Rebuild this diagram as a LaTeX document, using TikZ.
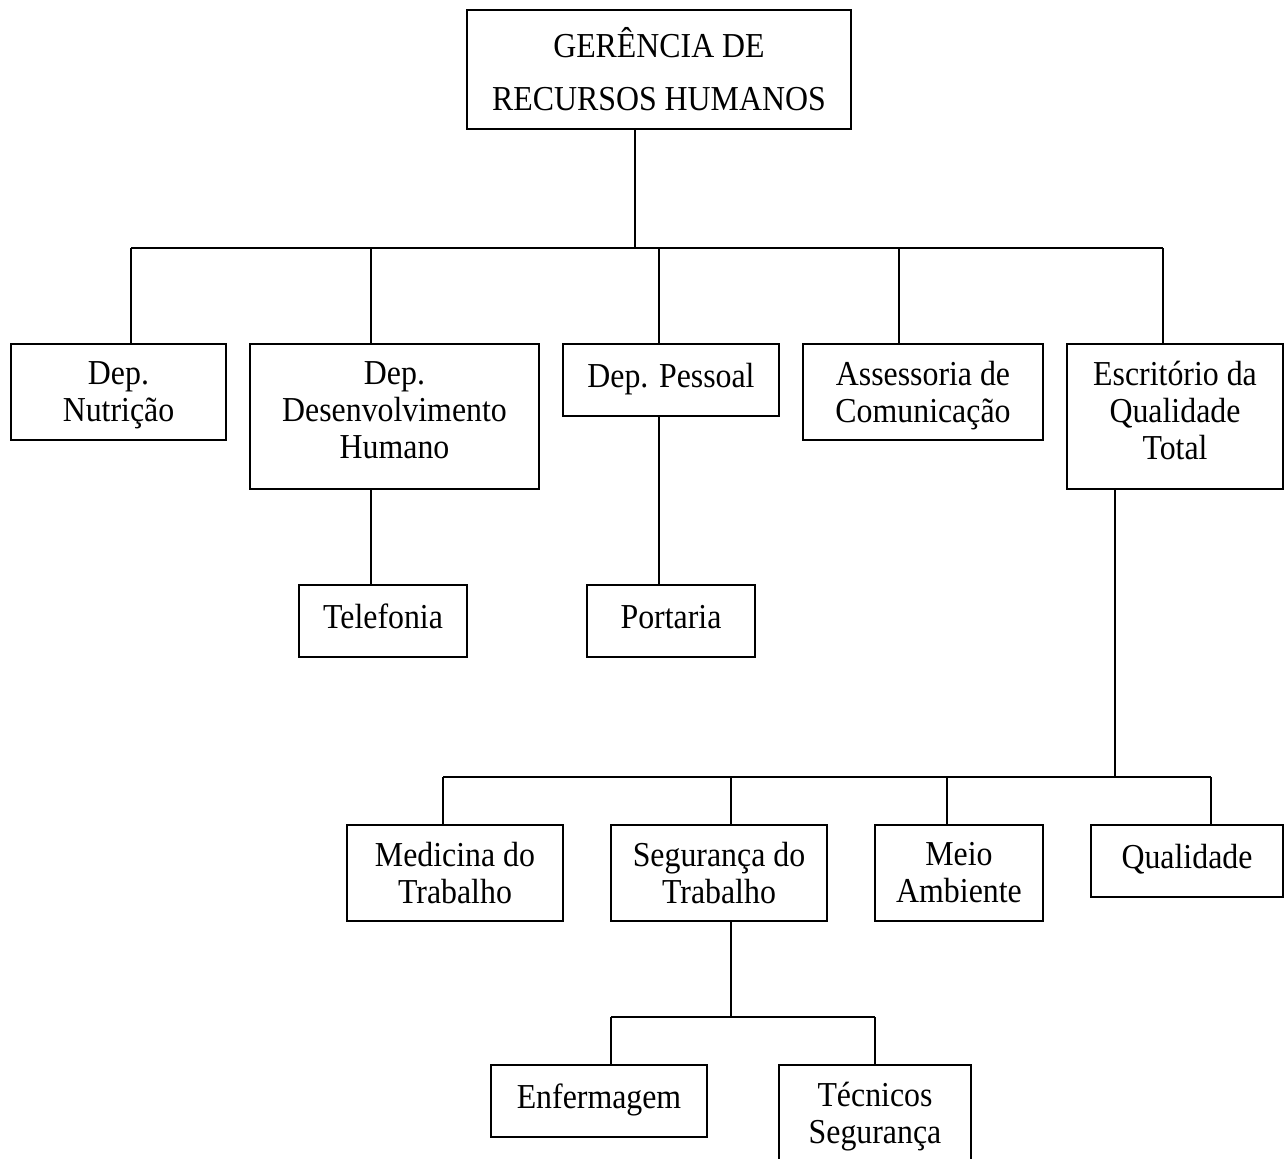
\documentclass[tikz,border=0pt]{standalone}
\usepackage{fontspec}
\setmainfont{Liberation Serif}[FakeStretch=0.91]
\usepackage{tikz}
\usetikzlibrary{positioning}

\begin{document}
\begin{tikzpicture}[
  x=0.5pt, y=-0.5pt,
  box/.style={draw, line width=1pt, inner sep=0pt},
  sz/.style 2 args={minimum width=#1*0.5pt, minimum height=#2*0.5pt},
  txt/.style={label={[lbl]north:#1}},
  lbl/.style={anchor=north, yshift=-9pt, inner sep=0pt, align=center,
    font=\fontsize{17.5}{18.5}\selectfont,
    execute at begin node=\strut, execute at end node=\strut},
  link/.style={line width=1pt},
]
\useasboundingbox (0,0) rectangle (1285,1158);

\node[box, sz={384}{119}] (ger) at (659,69.5) {};
\node[lbl, yshift=0pt] (gertxt) at (ger.north) {GERÊNCIA DE\\[8pt]RECURSOS HUMANOS};

\node[box, sz={215}{96}, txt={Dep.\\Nutrição}] (nutri) at (118.5,392) {};
\node[box, sz={289}{145}, txt={Dep.\\Desenvolvimento\\Humano}] (desen) at (394.5,416.5) {};
\node[box, sz={216}{72}, txt={Dep. Pessoal}] (pess) at (671,380) {};
\node[box, sz={240}{96}, txt={Assessoria de\\Comunicação}] (asses) at (923,392) {};
\node[box, sz={216}{145}, txt={Escritório da\\Qualidade\\Total}] (escr) at (1175,416.5) {};

\node[box, sz={168}{72}, txt={Telefonia}] (tele) at (383,621) {};
\node[box, sz={168}{72}, txt={Portaria}] (port) at (671,621) {};

\node[box, sz={216}{96}, txt={Medicina do\\Trabalho}] (med) at (455,873) {};
\node[box, sz={216}{96}, txt={Segurança do\\Trabalho}] (seg) at (719,873) {};
\node[box, sz={168}{96}, txt={Meio\\Ambiente}] (meio) at (959,873) {};
\node[box, sz={192}{72}, txt={Qualidade}] (qual) at (1187,861) {};

\node[box, sz={216}{72}, txt={Enfermagem}] (enf) at (599,1101) {};
\node[box, sz={192}{96}, txt={Técnicos\\Segurança}] (tec) at (875,1113) {};

% first level
\coordinate (top) at (635,248);
\coordinate (a1) at (131,248);
\coordinate (a2) at (371,248);
\coordinate (a3) at (659,248);
\coordinate (a4) at (899,248);
\coordinate (a5) at (1163,248);
\draw[link] (ger.south -| top) -- (top);
\draw[link] (a1) -- (a5);
\foreach \j/\n in {a1/nutri, a2/desen, a3/pess, a4/asses, a5/escr}
  \draw[link] (\j) -- (\j |- \n.north);

% second level
\draw[link] (desen.south -| a2) -- (tele.north -| a2);
\draw[link] (pess.south -| a3) -- (port.north -| a3);

% quality office
\coordinate (q0) at (1115,777);
\coordinate (b1) at (443,777);
\coordinate (b2) at (731,777);
\coordinate (b3) at (947,777);
\coordinate (b4) at (1211,777);
\draw[link] (escr.south -| q0) -- (q0);
\draw[link] (b1) -- (b4);
\foreach \j/\n in {b1/med, b2/seg, b3/meio, b4/qual}
  \draw[link] (\j) -- (\j |- \n.north);

% safety
\coordinate (s0) at (731,1017);
\coordinate (c1) at (611,1017);
\coordinate (c2) at (875,1017);
\draw[link] (seg.south -| s0) -- (s0);
\draw[link] (c1) -- (c2);
\foreach \j/\n in {c1/enf, c2/tec}
  \draw[link] (\j) -- (\j |- \n.north);
\end{tikzpicture}
\end{document}
